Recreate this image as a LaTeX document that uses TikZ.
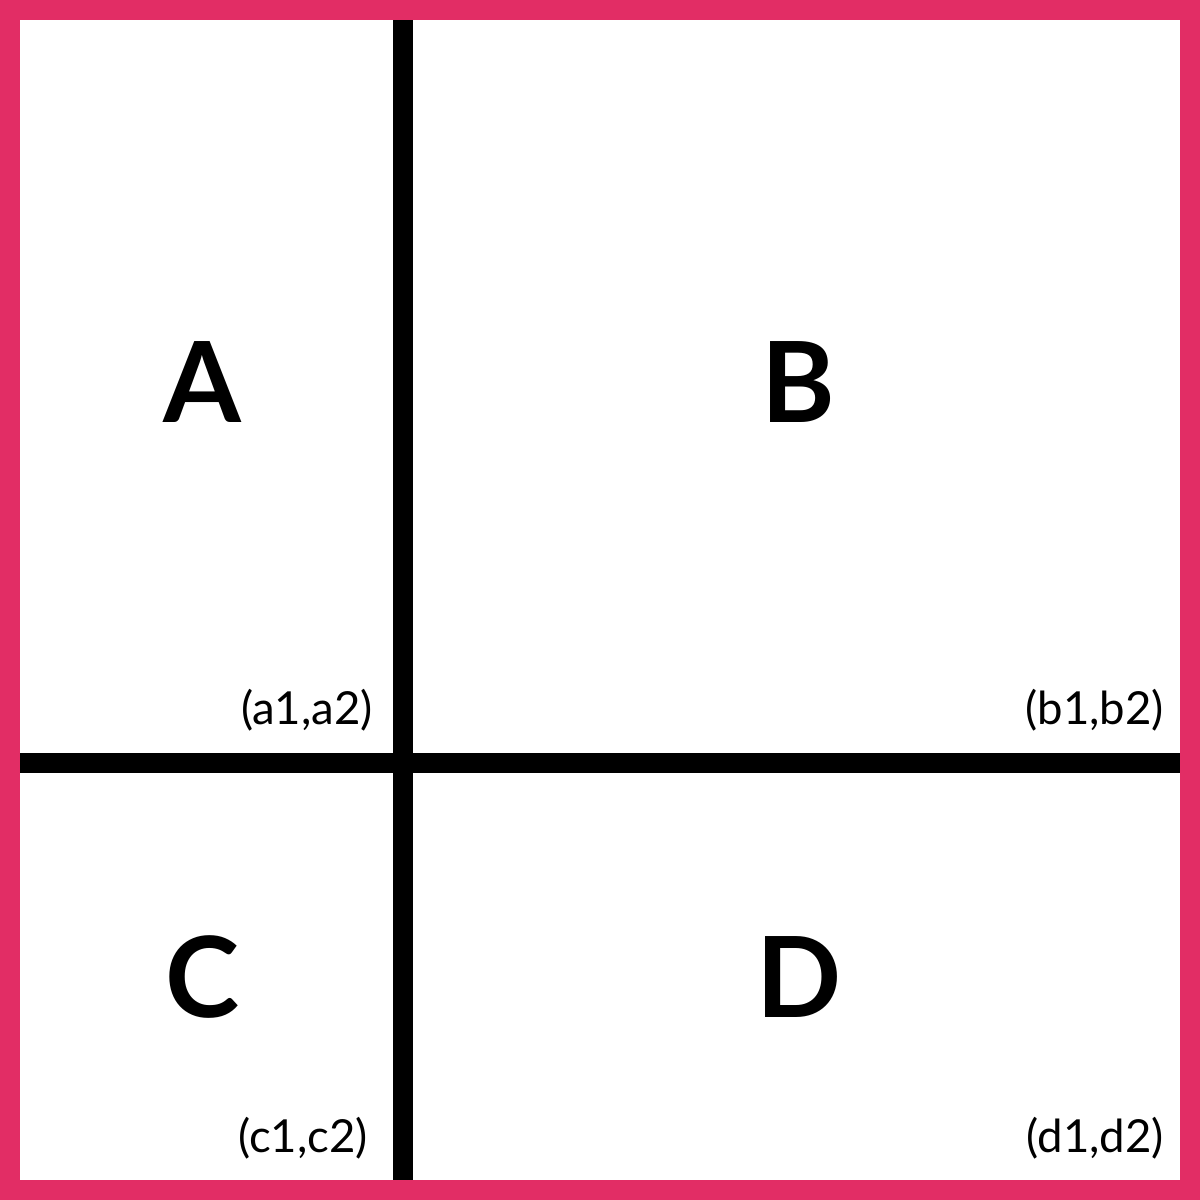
\documentclass[tikz,border=0pt]{standalone}
\usepackage{fontspec}
\setmainfont{Lato}
\definecolor{frame}{HTML}{E22D65}
\tikzset{
  big/.style={font=\fontsize{112}{112}\selectfont\bfseries, inner sep=0pt, anchor=base},
  coord/.style={font=\fontsize{45.5}{45.5}\selectfont, inner sep=0pt, anchor=base east},
  divider/.style={line width=20pt, black}
}
\begin{document}
\begin{tikzpicture}[x=1pt,y=-1pt]
\useasboundingbox (0,0) rectangle (1200,1200);
\fill[frame] (0,0) rectangle (1200,1200);
\fill[white] (20,20) rectangle (1180,1180);
\coordinate (vt) at (403,20);
\coordinate (vb) at (403,1180);
\coordinate (hl) at (20,763);
\coordinate (hr) at (1180,763);
\draw[divider] (vt) -- (vb);
\draw[divider] (hl) -- (hr);
\node[big] (A) at (202,422) {A};
\node[big] (B) at (798,422) {B};
\node[big] (C) at (203,1017) {C};
\node[big] (D) at (799,1017) {D};
\node[coord] (a) at (373,724) {(a1,a2)};
\node[coord] (b) at (1164,724) {(b1,b2)};
\node[coord] (c) at (368,1152) {(c1,c2)};
\node[coord] (d) at (1164,1152) {(d1,d2)};
\end{tikzpicture}
\end{document}
